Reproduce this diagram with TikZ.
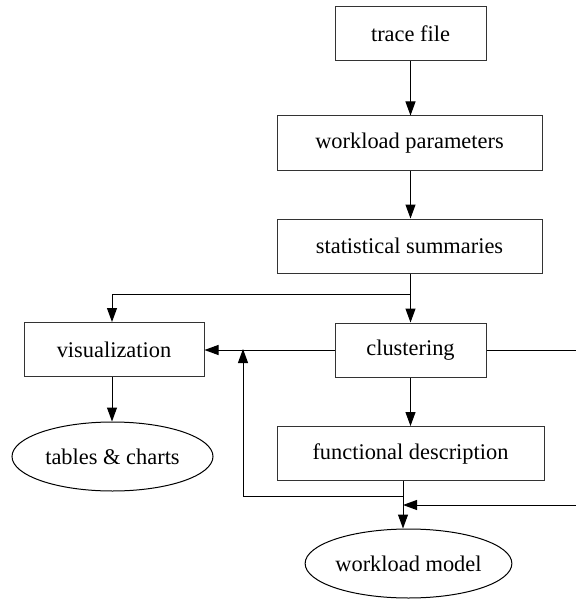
\documentclass[tikz,border=0pt]{standalone}
\usepackage{fontspec}
\setmainfont{Liberation Serif}
\usetikzlibrary{arrows.meta,shapes.geometric}

\begin{document}
\begin{tikzpicture}[x=0.5pt,y=-0.5pt]
\tikzstyle{box}=[rectangle, draw=black!80, line width=0.5pt, minimum height=27pt, inner sep=0pt, font=\fontsize{11.2}{13}\selectfont]
\tikzstyle{result}=[ellipse, draw=black, line width=0.5pt, inner sep=0pt, minimum height=34.5pt, font=\fontsize{11.2}{13}\selectfont]
\tikzstyle{connect}=[-{Triangle[length=7pt,width=5pt]}, line width=0.5pt]
\tikzstyle{plain}=[line width=0.5pt]

  \useasboundingbox (0,0) rectangle (576,599);
  \clip (0,0) rectangle (576,599);

  \node[box, minimum width=75.5pt] (trace) at (410.5,34) {trace file};
  \node[box, minimum width=132.5pt] (params) at (409.5,143) {workload parameters};
  \node[box, minimum width=132.5pt] (stats) at (409.5,246) {statistical summaries};
  \node[box, minimum width=75.5pt] (clust) at (410.5,350) {clustering};
  \node[box, minimum width=90pt] (vis) at (114,349.5) {visualization};
  \node[box, minimum width=133.5pt] (func) at (410.5,453.5) {functional description};
  \node[result, minimum width=100.5pt] (tabs) at (112.5,456.5) {tables \& charts};
  \node[result, minimum width=102.5pt] (model) at (408.5,563.5) {workload model};

  % split points of the connectors
  \coordinate (split) at (410.5,294);
  \coordinate (back) at (403,496);
  \coordinate (up) at (243,349);
  \coordinate (join) at (403,505);
  \coordinate (far) at (590,350);

  \draw[connect] (split |- trace.south) -- (split |- params.north);
  \draw[connect] (split |- params.south) -- (split |- stats.north);
  \path (clust) edge [connect] (func);
  \draw[plain] (split |- stats.south) -- (split);
  \draw[connect] (split) -- (split |- clust.north);
  \draw[connect] (split) -| ([xshift=-1pt]vis.north);
  \draw[connect] (clust.west) -- (clust.west -| vis.east);
  \draw[connect] ([xshift=-1pt]vis.south) -- ([xshift=-1pt]vis.south |- tabs.north);
  \draw[connect] (back |- func.south) -- (back |- model.north);
  \draw[connect] (back) -| (up);
  \draw[connect] (clust.east) -- (far) |- (join);
\end{tikzpicture}
\end{document}
